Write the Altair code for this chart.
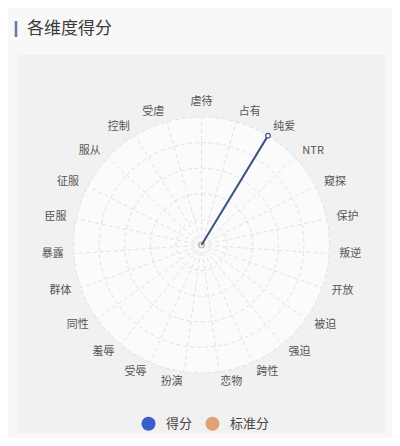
import math
import altair as alt
import pandas as pd

# ---- data ----
categories = ["虐待", "占有", "纯爱", "NTR", "窥探", "保护", "叛逆", "开放", "被迫", "强迫",
              "跨性", "恋物", "扮演", "受辱", "羞辱", "同性", "群体", "暴露", "臣服", "征服",
              "服从", "控制", "受虐"]
score = [0, 0, 1.0, 0, 0, 0, 0, 0, 0, 0, 0, 0, 0, 0, 0, 0, 0, 0, 0, 0, 0, 0, 0]
standard = [0] * len(categories)
series_names = ["得分", "标准分"]
series_colors = ["#3a5fc8", "#e0a274"]
ring_levels = [0.2, 0.4, 0.6, 0.8, 1.0]

N = len(categories)
FONT = "Noto Sans CJK SC"

# ---- tables ----
rows = []
for name, vals in zip(series_names, [score, standard]):
    for i in range(N + 1):
        k = i % N
        rows.append({"series": name, "cat": categories[k], "idx": i, "value": vals[k]})
series_df = pd.DataFrame(rows)

cat_df = pd.DataFrame({"cat": categories, "idx": list(range(N))})

ring_rows = []
for r in ring_levels:
    for s in range(0, 121):
        ring_rows.append({"ring": r, "step": s})
ring_df = pd.DataFrame(ring_rows)

# ---- scales: unit = outer radius (128px); center at page (201.5, 245) ----
R = 128.0
W, H = 384, 430
xmin = -(201.5 - 8) / R
xmax = xmin + W / R
ymax = (245 - 8) / R
ymin = ymax - H / R
xs = alt.Scale(domain=[xmin, xmax], nice=False, zero=False)
ys = alt.Scale(domain=[ymin, ymax], nice=False, zero=False)

def X(field="x"):
    return alt.X(f"{field}:Q", scale=xs, axis=None)

def Y(field="y"):
    return alt.Y(f"{field}:Q", scale=ys, axis=None)

TAU = 2 * math.pi

# card background
card = alt.Chart(pd.DataFrame({"a": [0]})).mark_rect(fill="#f1f1f1", cornerRadius=3).encode(
    x=alt.value(17 - 8), x2=alt.value(385 - 8), y=alt.value(55 - 8), y2=alt.value(433 - 8)
)

# title with accent bar
title_bar = alt.Chart(pd.DataFrame({"a": [0]})).mark_rule(color="#5b7cae", strokeWidth=2.5).encode(
    x=alt.value(16 - 8), y=alt.value(21 - 8), y2=alt.value(37 - 8)
)
title_text = alt.Chart(pd.DataFrame({"t": ["各维度得分"]})).mark_text(
    align="left", baseline="middle", fontSize=17, font=FONT, color="#3a3a3a"
).encode(x=alt.value(27 - 8), y=alt.value(29 - 8), text="t:N")

# white disk
disk = alt.Chart(pd.DataFrame({"x": [0.0], "y": [0.0]})).mark_arc(
    radius=R, theta=0, theta2=TAU, fill="#fbfbfb"
).encode(x=X(), y=Y())

# rings
rings = alt.Chart(ring_df).transform_calculate(
    x=f"datum.ring * sin(datum.step * {TAU} / 120)",
    y=f"datum.ring * cos(datum.step * {TAU} / 120)",
).mark_line(color="#e2e2e2", strokeWidth=1, strokeDash=[4, 3]).encode(
    x=X(), y=Y(), detail="ring:N", order="step:Q"
)

# spokes
spokes = alt.Chart(cat_df).transform_calculate(
    x0="0", y0="0",
    x=f"sin(datum.idx * {TAU} / {N})",
    y=f"cos(datum.idx * {TAU} / {N})",
).mark_rule(color="#e2e2e2", strokeWidth=1, strokeDash=[4, 3]).encode(
    x=X("x0"), y=Y("y0"), x2="x:Q", y2="y:Q"
)

# labels
LR = 138 / R
lab_base = alt.Chart(cat_df).transform_calculate(
    s=f"sin(datum.idx * {TAU} / {N})",
    x=f"{LR} * sin(datum.idx * {TAU} / {N})",
    y=f"{LR} * cos(datum.idx * {TAU} / {N})",
)
lab_kw = dict(fontSize=11, font=FONT, color="#555555")
lab_top = lab_base.transform_filter("abs(datum.s) < 0.05").mark_text(
    align="center", baseline="bottom", **lab_kw).encode(x=X(), y=Y(), text="cat:N")
lab_right = lab_base.transform_filter("datum.s >= 0.05").mark_text(
    align="left", baseline="middle", **lab_kw).encode(x=X(), y=Y(), text="cat:N")
lab_left = lab_base.transform_filter("datum.s <= -0.05").mark_text(
    align="right", baseline="middle", **lab_kw).encode(x=X(), y=Y(), text="cat:N")

color_scale = alt.Scale(domain=series_names, range=series_colors)

series_base = alt.Chart(series_df).transform_calculate(
    x=f"datum.value * sin(datum.idx * {TAU} / {N})",
    y=f"datum.value * cos(datum.idx * {TAU} / {N})",
)

std_line = series_base.transform_filter("datum.series == '标准分'").mark_line(
    color="#e0a274", strokeWidth=2).encode(x=X(), y=Y(), order="idx:Q")
std_pts = series_base.transform_filter("datum.series == '标准分'").mark_point(
    shape="circle", size=24, filled=False, fill="#ffffff", color="#cbbfb5", strokeWidth=1.2, opacity=1
).encode(x=X(), y=Y())

score_line = series_base.transform_filter("datum.series == '得分'").mark_line(
    color="#3d5482", strokeWidth=2).encode(x=X(), y=Y(), order="idx:Q")
score_pts = series_base.transform_filter("datum.series == '得分' && datum.value > 0").mark_point(
    shape="circle", size=22, filled=False, fill="#ffffff", color="#3d5482", strokeWidth=1.2, opacity=1
).encode(x=X(), y=Y())

legend_layer = series_base.mark_circle(size=0.01, opacity=0).encode(
    x=X(), y=Y(),
    color=alt.Color("series:N", scale=color_scale, sort=series_names, legend=alt.Legend(
        title=None, orient="none", direction="horizontal", legendX=141 - 8, legendY=416 - 8,
        symbolType="circle", symbolSize=200, symbolOpacity=1, symbolStrokeWidth=0,
        labelFont=FONT, labelFontSize=13, labelColor="#444444", labelOffset=10,
        columnPadding=12, padding=0,
    )),
)

chart = alt.layer(
    card, title_bar, title_text, disk, rings, spokes,
    lab_top, lab_right, lab_left,
    std_line, std_pts, score_line, score_pts, legend_layer,
).properties(
    width=W, height=H, background="#f8f8f8", padding=0,
    autosize=alt.AutoSizeParams(type="none"),
).configure_view(stroke=None)

chart.save("out.html", embed_options={"renderer": "svg", "actions": False})
